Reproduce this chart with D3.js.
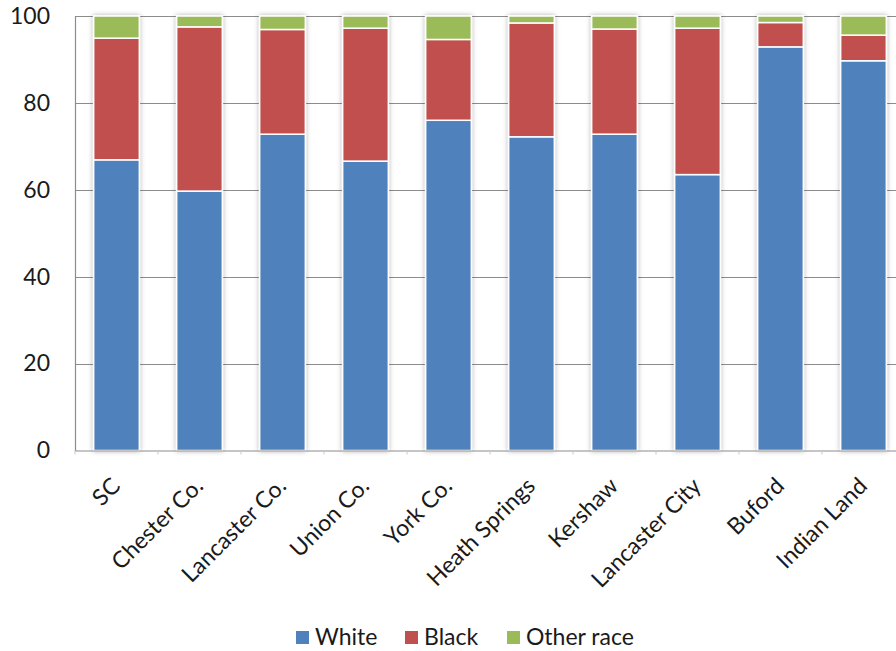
<!DOCTYPE html>
<html>
<head>
<meta charset="utf-8">
<script src="https://cdn.jsdelivr.net/npm/d3@7"></script>
<style>
  html, body { margin: 0; padding: 0; background: #fff; }
  svg { display: block; }
  text { font-family: Lato, "Open Sans", sans-serif; fill: #1a1a1a; }
</style>
</head>
<body>
<svg id="chart" width="896" height="651"></svg>
<script>
const categories = ["SC", "Chester Co.", "Lancaster Co.", "Union Co.", "York Co.", "Heath Springs", "Kershaw", "Lancaster City", "Buford", "Indian Land"];
const white = [66.9, 59.7, 72.8, 66.6, 76.0, 72.2, 72.8, 63.5, 92.9, 89.7];
const black = [28.0, 37.8, 24.1, 30.6, 18.6, 26.2, 24.2, 33.7, 5.6, 5.9];
const other = [5.1, 2.5, 3.1, 2.8, 5.4, 1.6, 3.0, 2.8, 1.5, 4.4];
const seriesNames = ["White", "Black", "Other race"];
const seriesColors = ["#4F81BD", "#C0504D", "#9BBB59"];
const yTicks = [0, 20, 40, 60, 80, 100];

const svg = d3.select("#chart");
const plotLeft = 75, plotRight = 905, plotTop = 16, plotBottom = 450.5;
const fontFam = "Lato, 'Open Sans', sans-serif";

const x = d3.scaleBand().domain(categories).range([plotLeft, plotRight]).paddingInner(0.45).paddingOuter(0.225);
const y = d3.scaleLinear().domain([0, 100]).range([plotBottom, plotTop]);

const rows = categories.map((c, i) => ({ cat: c, White: white[i], Black: black[i], "Other race": other[i] }));
const stacked = d3.stack().keys(seriesNames)(rows);

const defs = svg.append("defs");
const f = defs.append("filter").attr("id", "shadow").attr("x", "-30%").attr("y", "-10%").attr("width", "160%").attr("height", "120%");
f.append("feDropShadow").attr("dx", 0).attr("dy", 0).attr("stdDeviation", 2.6).attr("flood-color", "#000").attr("flood-opacity", 0.32);

// gridlines
svg.append("g").selectAll("line").data(yTicks.filter(d => d > 0)).join("line")
  .attr("x1", plotLeft).attr("x2", plotRight)
  .attr("y1", d => Math.round(y(d)) + 0.5).attr("y2", d => Math.round(y(d)) + 0.5)
  .attr("stroke", "#8c8c8c").attr("stroke-width", 1.2);

// y axis
const yAxis = svg.append("g").attr("transform", `translate(${plotLeft},0)`)
  .call(d3.axisLeft(y).tickValues(yTicks).tickSize(0).tickPadding(25).tickFormat(d3.format("d")));
yAxis.select(".domain").attr("stroke", "#8c8c8c").attr("stroke-width", 1.2);
yAxis.selectAll("text").attr("font-size", 23).attr("font-family", fontFam).attr("fill", "#1a1a1a");

// bars
const barGroups = svg.append("g").selectAll("g").data(categories).join("g")
  .attr("filter", "url(#shadow)");
barGroups.each(function (c, i) {
  const g = d3.select(this);
  stacked.forEach((s, k) => {
    const d = s[i];
    g.append("rect")
      .attr("x", x(c))
      .attr("width", x.bandwidth())
      .attr("y", y(d[1]))
      .attr("height", y(d[0]) - y(d[1]))
      .attr("fill", seriesColors[k])
      .attr("stroke", "#fff")
      .attr("stroke-width", 1.5);
  });
});

// x axis
const xAxis = svg.append("g").attr("transform", `translate(0,${plotBottom})`)
  .call(d3.axisBottom(x).tickSize(0).tickPadding(0));
xAxis.select(".domain").attr("stroke", "#8c8c8c").attr("stroke-width", 1.2);
xAxis.selectAll(".tick text")
  .attr("font-size", 23)
  .attr("font-family", fontFam)
  .attr("fill", "#1a1a1a")
  .attr("text-anchor", "end")
  .attr("y", 0)
  .attr("dy", 0)
  .attr("transform", "translate(5,37) rotate(-45)");
// small ticks at band boundaries
svg.append("g").selectAll("line").data(d3.range(categories.length + 1)).join("line")
  .attr("x1", i => plotLeft + i * x.step()).attr("x2", i => plotLeft + i * x.step())
  .attr("y1", plotBottom).attr("y2", plotBottom + 4)
  .attr("stroke", "#c8c8c8").attr("stroke-width", 1);

// legend
const legendItems = seriesNames.map((n, i) => ({ name: n, color: seriesColors[i] }));
const legend = svg.append("g");
const legendX = [296, 405, 507];
legendItems.forEach((it, i) => {
  const g = legend.append("g").attr("transform", `translate(${legendX[i]},0)`);
  g.append("rect").attr("x", 0).attr("y", 631).attr("width", 13).attr("height", 13).attr("fill", it.color);
  g.append("text").attr("x", 19).attr("y", 645).attr("font-size", 23).attr("font-family", fontFam).text(it.name);
});
</script>
</body>
</html>
